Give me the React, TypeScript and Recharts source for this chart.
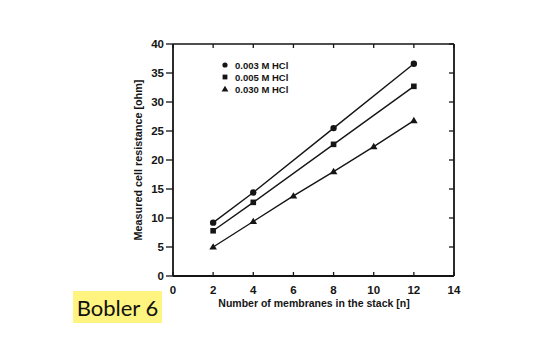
import React from "react";
import { LineChart, Line, XAxis, YAxis, Legend } from "recharts";

// membranes in stack [n] vs measured cell resistance [ohm]
const membranes003 = [2, 4, 8, 12];
const resistance003 = [9.2, 14.4, 25.5, 36.6];
const membranes005 = [2, 4, 8, 12];
const resistance005 = [7.8, 12.7, 22.7, 32.7];
const membranes030 = [2, 4, 6, 8, 10, 12];
const resistance030 = [5.0, 9.4, 13.8, 18.0, 22.3, 26.8];

const xTicks = [0, 2, 4, 6, 8, 10, 12, 14];
const yTicks = [0, 5, 10, 15, 20, 25, 30, 35, 40];

const seriesNames = ["0.003 M HCl", "0.005 M HCl", "0.030 M HCl"];

const toRows = (xs: number[], ys: number[]) => xs.map((n, i) => ({ n, r: ys[i] }));

const data003 = toRows(membranes003, resistance003);
const data005 = toRows(membranes005, resistance005);
const data030 = toRows(membranes030, resistance030);

const INK = "#151515";
const FONT = "'Liberation Sans', Arial, sans-serif";
const blank = () => "";

const CircleDot = (props: any) => {
  const { cx, cy } = props;
  if (cx == null || cy == null) return null;
  return <circle cx={cx} cy={cy} r={3.2} fill={INK} />;
};

const SquareDot = (props: any) => {
  const { cx, cy } = props;
  if (cx == null || cy == null) return null;
  return <rect x={cx - 2.8} y={cy - 2.8} width={5.6} height={5.6} fill={INK} />;
};

const TriangleDot = (props: any) => {
  const { cx, cy } = props;
  if (cx == null || cy == null) return null;
  return <polygon points={`${cx},${cy - 3.8} ${cx + 3.8},${cy + 2.6} ${cx - 3.8},${cy + 2.6}`} fill={INK} />;
};

const markerIcon = (i: number) => {
  if (i === 0) return <circle cx={5} cy={5} r={2.6} fill={INK} />;
  if (i === 1) return <rect x={2.6} y={2.6} width={4.8} height={4.8} fill={INK} />;
  return <polygon points="5,1.8 8.4,7.6 1.6,7.6" fill={INK} />;
};

const LegendBox = () => (
  <div style={{ fontFamily: FONT, fontWeight: 700, fontSize: 9.5, color: INK }}>
    {seriesNames.map((name, i) => (
      <div key={name} style={{ display: "flex", alignItems: "center", height: 12 }}>
        <svg width={10} height={10} style={{ marginRight: 5 }}>
          {markerIcon(i)}
        </svg>
        <span>{name}</span>
      </div>
    ))}
  </div>
);

const tickStyle = { fontFamily: FONT, fontWeight: 700, fontSize: 11.5, fill: INK };

export default function App() {
  return (
    <div style={{ position: "absolute", left: 0, top: 0, width: 557, height: 357, background: "#fff" }}>
      <LineChart width={557} height={357} margin={{ top: 44, right: 103, bottom: 51, left: 133 }}>
        <XAxis
          dataKey="n"
          type="number"
          domain={[0, 14]}
          ticks={xTicks}
          allowDataOverflow
          height={30}
          tickLine={false}
          tickSize={6}
          tickMargin={4}
          axisLine={{ stroke: INK, strokeWidth: 1.8 }}
          tick={tickStyle}
          label={{
            content: () => (
              <text x={314} y={303} textAnchor="middle" dominantBaseline="central" style={{ fontFamily: FONT, fontWeight: 700, fontSize: 10.5, fill: INK }}>
                Number of membranes in the stack [n]
              </text>
            ),
          }}
        />
        <XAxis
          xAxisId="inner"
          dataKey="n"
          type="number"
          domain={[0, 14]}
          ticks={xTicks}
          allowDataOverflow
          orientation="bottom"
          mirror
          stroke={INK}
          tickFormatter={blank}
          tickSize={4}
          axisLine={false}
          tickLine={{ stroke: INK, strokeWidth: 1.3 }}
        />
        <XAxis
          xAxisId="top"
          dataKey="n"
          type="number"
          domain={[0, 14]}
          ticks={xTicks}
          allowDataOverflow
          orientation="top"
          mirror
          stroke={INK}
          tickFormatter={blank}
          tickSize={4}
          axisLine={{ stroke: INK, strokeWidth: 1.6 }}
          tickLine={{ stroke: INK, strokeWidth: 1.3 }}
        />
        <YAxis
          type="number"
          domain={[0, 40]}
          ticks={yTicks}
          allowDataOverflow
          width={40}
          tickSize={7}
          tickMargin={2}
          axisLine={{ stroke: INK, strokeWidth: 1.8 }}
          tickLine={{ stroke: INK, strokeWidth: 1.3 }}
          tick={tickStyle}
          label={{
            content: () => (
              <text
                x={138}
                y={160}
                transform="rotate(-90 138 160)"
                textAnchor="middle"
                dominantBaseline="central"
                style={{ fontFamily: FONT, fontWeight: 700, fontSize: 10.8, fill: INK }}
              >
                Measured cell resistance [ohm]
              </text>
            ),
          }}
        />
        <YAxis
          yAxisId="right"
          orientation="right"
          type="number"
          domain={[0, 40]}
          ticks={yTicks}
          allowDataOverflow
          width={10}
          mirror
          stroke={INK}
          tickFormatter={blank}
          tickSize={5}
          axisLine={{ stroke: INK, strokeWidth: 1.8 }}
          tickLine={{ stroke: INK, strokeWidth: 1.3 }}
        />
        <Legend
          layout="vertical"
          align="center"
          verticalAlign="middle"
          content={<LegendBox />}
          wrapperStyle={{ left: 220, top: 59, width: 120, height: 40 }}
        />
        {/* invisible series so the frame axes (top, right, inner ticks) get a domain */}
        <Line data={data030} dataKey="r" xAxisId="top" yAxisId="right" stroke="none" dot={false} activeDot={false} legendType="none" isAnimationActive={false} />
        <Line data={data030} dataKey="r" xAxisId="inner" stroke="none" dot={false} activeDot={false} legendType="none" isAnimationActive={false} />
        <Line data={data003} dataKey="r" name={seriesNames[0]} type="linear" stroke={INK} strokeWidth={1.4} dot={<CircleDot />} activeDot={false} isAnimationActive={false} />
        <Line data={data005} dataKey="r" name={seriesNames[1]} type="linear" stroke={INK} strokeWidth={1.4} dot={<SquareDot />} activeDot={false} isAnimationActive={false} />
        <Line data={data030} dataKey="r" name={seriesNames[2]} type="linear" stroke={INK} strokeWidth={1.4} dot={<TriangleDot />} activeDot={false} isAnimationActive={false} />
      </LineChart>
      <div
        style={{
          position: "absolute",
          left: 73,
          top: 291,
          width: 89,
          height: 32,
          background: "#fff47f",
          fontFamily: "Lato, 'Open Sans', sans-serif",
          fontSize: 22,
          color: "#111",
          display: "flex",
          alignItems: "center",
          justifyContent: "center",
        }}
      >
        Bobler 6
      </div>
    </div>
  );
}
